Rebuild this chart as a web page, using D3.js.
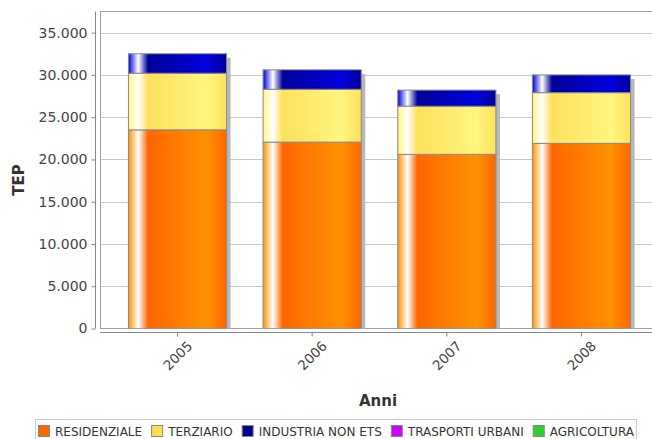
<!DOCTYPE html>
<html><head><meta charset="utf-8">
<script src="https://cdn.jsdelivr.net/npm/d3@7"></script>
<style>html,body{margin:0;padding:0;background:#fff;}svg{display:block;}</style>
</head><body>
<svg id="chart" width="652" height="439"></svg>
<script>
const categories = ["2005", "2006", "2007", "2008"];
const seriesNames = ["RESIDENZIALE", "TERZIARIO", "INDUSTRIA NON ETS", "TRASPORTI URBANI", "AGRICOLTURA"];
const residenziale = [23500, 22050, 20600, 21900];
const terziario = [6700, 6250, 5700, 6000];
const industria = [2300, 2300, 1900, 2100];
const trasporti = [0, 0, 0, 0];
const agricoltura = [0, 0, 0, 0];
const yTicks = [0, 5000, 10000, 15000, 20000, 25000, 30000, 35000];
const yMax = 37500;

const seriesValues = [residenziale, terziario, industria, trasporti, agricoltura];
const baseColors = ["#ff6600", "#ffe05c", "#000099", "#cc00ff", "#33cc33"];
const lightColors = ["#ff9200", "#fff680", "#0000dd", "#ff40ff", "#55ee55"];
const legendColors = ["#ff6600", "#ffdd55", "#000090", "#cc00ff", "#33cc33"];

const svg = d3.select("#chart");
const plot = {left: 100, right: 660, top: 11.5, bottom: 328.5};

const rows = categories.map((c, i) => {
  const r = {cat: c};
  seriesNames.forEach((s, k) => r[s] = seriesValues[k][i]);
  return r;
});
const stacked = d3.stack().keys(seriesNames)(rows);

const x = d3.scaleBand().domain(categories).range([101.5, 657.5]).paddingInner(0.271).paddingOuter(0.2);
const y = d3.scaleLinear().domain([0, yMax]).range([plot.bottom, plot.top]);

const defs = svg.append("defs");
seriesNames.forEach((s, k) => {
  const g = defs.append("linearGradient").attr("id", "grad" + k).attr("x1", 0).attr("x2", 1).attr("y1", 0).attr("y2", 0);
  [[0, lightColors[k]], [0.10, "#ffffff"], [0.20, baseColors[k]], [0.80, lightColors[k]], [1, baseColors[k]]]
    .forEach(([o, c]) => g.append("stop").attr("offset", o).attr("stop-color", c));
});
defs.append("clipPath").attr("id", "clip").append("rect")
  .attr("x", plot.left).attr("y", plot.top).attr("width", plot.right - plot.left).attr("height", plot.bottom - plot.top);

// plot background & grid
svg.append("rect").attr("x", plot.left + 0.5).attr("y", plot.top).attr("width", plot.right - plot.left).attr("height", plot.bottom - plot.top)
  .attr("fill", "#fff").attr("stroke", "#a0a0a0");
svg.append("g").selectAll("line").data(yTicks.filter(d => d > 0)).join("line")
  .attr("x1", plot.left + 1).attr("x2", plot.right).attr("y1", d => Math.round(y(d)) + 0.5).attr("y2", d => Math.round(y(d)) + 0.5)
  .attr("stroke", "#c8c8c8");

const gBars = svg.append("g").attr("clip-path", "url(#clip)");
// shadows
const totals = rows.map((r, i) => d3.sum(seriesValues, v => v[i]));
gBars.selectAll("rect.shadow").data(categories).join("rect").attr("class", "shadow")
  .attr("x", d => x(d) + 4).attr("width", x.bandwidth())
  .attr("y", (d, i) => y(totals[i]) + 4).attr("height", (d, i) => plot.bottom - y(totals[i]))
  .attr("fill", "#b8b8b8");
// stacked bars
stacked.forEach((layer, k) => {
  gBars.append("g").selectAll("rect").data(layer.filter(d => d[1] > d[0])).join("rect")
    .attr("x", d => x(d.data.cat)).attr("width", x.bandwidth())
    .attr("y", d => y(d[1])).attr("height", d => y(d[0]) - y(d[1]))
    .attr("fill", `url(#grad${k})`).attr("stroke", "#8a8a8a").attr("stroke-width", 1);
});

// y axis
const fmt = d3.formatLocale({decimal: ",", thousands: ".", grouping: [3], currency: ["", ""]}).format(",d");
const yAxis = d3.axisLeft(y).tickValues(yTicks).tickFormat(fmt).tickSize(4).tickPadding(4);
const gy = svg.append("g").attr("transform", "translate(95.5,0)").call(yAxis);
gy.select(".domain").attr("stroke", "#888").attr("d", `M0,${plot.top}V${plot.bottom}`);
gy.selectAll(".tick line").attr("stroke", "#888");
gy.selectAll(".tick text").attr("fill", "#444").style("font", "14px 'DejaVu Sans'");

// x axis
const xAxis = d3.axisBottom(x).tickSize(4).tickPadding(0);
const gx = svg.append("g").attr("transform", "translate(0,332.5)").call(xAxis);
gx.select(".domain").attr("stroke", "#888").attr("d", `M${plot.left},0H${plot.right}`);
gx.selectAll(".tick line").attr("stroke", "#888");
gx.selectAll(".tick text").attr("fill", "#444").style("font", "13.5px 'DejaVu Sans'")
  .attr("text-anchor", "middle").attr("dy", null).attr("y", null)
  .attr("transform", "translate(0,23) rotate(-45)").attr("dominant-baseline", "central");

// axis titles
svg.append("text").attr("x", 378).attr("y", 406).attr("text-anchor", "middle")
  .style("font", "bold 15px 'DejaVu Sans'").attr("fill", "#333").text("Anni");
svg.append("text").attr("transform", "translate(24,180) rotate(-90)").attr("text-anchor", "middle")
  .style("font", "bold 15px 'DejaVu Sans'").attr("fill", "#333").text("TEP");

// legend
const lg = svg.append("g");
lg.append("rect").attr("x", 35.5).attr("y", 419.5).attr("width", 601).attr("height", 30).attr("fill", "#fff").attr("stroke", "#cccccc");
let lx = 38;
seriesNames.forEach((s, k) => {
  lg.append("rect").attr("x", lx + 0.5).attr("y", 425.5).attr("width", 11).attr("height", 11)
    .attr("fill", legendColors[k]).attr("stroke", "#888");
  const t = lg.append("text").attr("x", lx + 17).attr("y", 435.5).style("font", "12px 'DejaVu Sans'")
    .attr("fill", "#333").text(s);
  lx += 17 + t.node().getComputedTextLength() + 9;
});
</script>
</body></html>
